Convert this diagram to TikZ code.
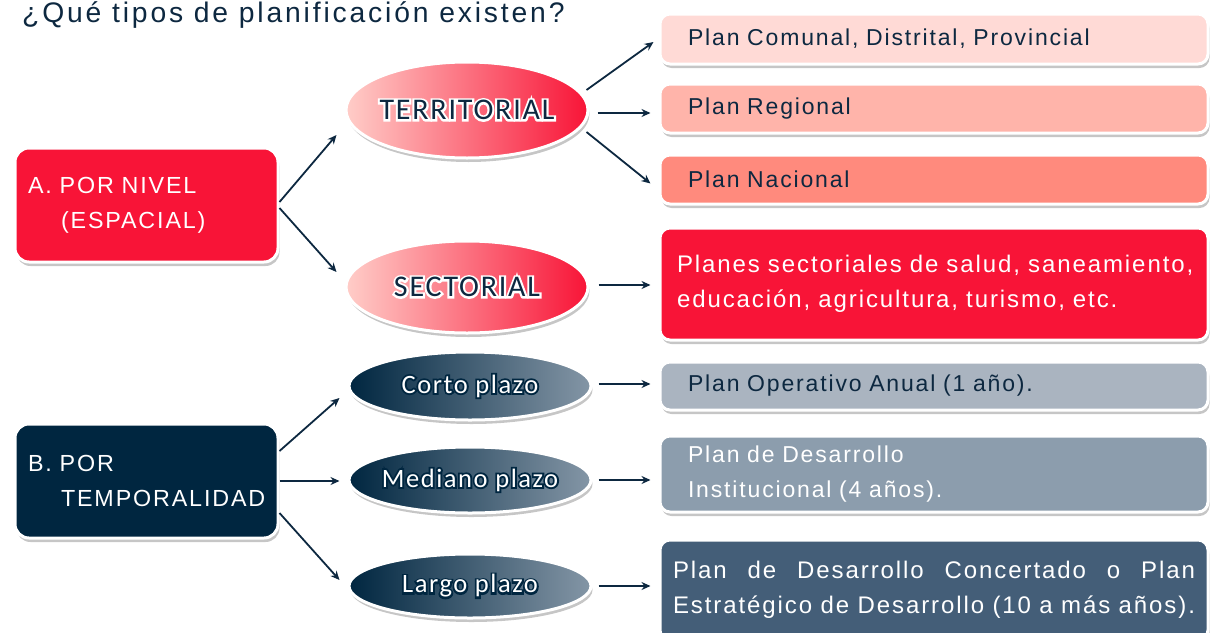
\documentclass[tikz,border=0pt]{standalone}
\usepackage{fontspec}
\setmainfont[LetterSpace=8,WordSpace=1.8]{Liberation Sans}
\newfontfamily\tightf[LetterSpace=8]{Liberation Sans}
\newfontfamily\titlef[LetterSpace=10]{Liberation Sans}
\newfontfamily\calib[LetterSpace=6]{Carlito}
\newfontfamily\calibhalo[LetterSpace=6,FakeBold=14]{Carlito}
\usetikzlibrary{shapes.geometric,shadows,arrows.meta,calc}
\definecolor{dark}{RGB}{13,40,64}
\definecolor{cred}{RGB}{248,20,55}
\definecolor{cnavy}{RGB}{0,38,64}
\definecolor{pinkA}{RGB}{255,218,214}
\definecolor{pinkB}{RGB}{255,180,170}
\definecolor{pinkC}{RGB}{255,138,125}
\definecolor{greyA}{RGB}{170,180,192}
\definecolor{greyB}{RGB}{140,157,173}
\definecolor{slate}{RGB}{68,94,120}
\definecolor{ellL}{RGB}{255,205,200}
\definecolor{ellM}{RGB}{255,170,168}
\definecolor{dkR}{RGB}{132,150,166}
\newcommand\halo[3]{\makebox[0pt][c]{\rlap{\calibhalo\color{#1}#3}{\calib\color{#2}#3}}}
\begin{document}
\begin{tikzpicture}[x=1pt,y=-1pt,
  shadowed/.style={drop shadow={shadow xshift=1.5pt,shadow yshift=-4pt,fill=black!50,opacity=0.45}},
  box/.style={rectangle,rounded corners=10pt,draw=white,line width=3pt,shadowed,
    inner ysep=0pt,align=left,font=\fontsize{23}{35}\selectfont},
  lbox/.style={box,rounded corners=14pt,text=white,minimum width=263pt,minimum height=114pt,
    text width=237pt,inner xsep=13pt,font=\fontsize{23.3}{35}\selectfont},
  rbox/.style={box,minimum width=548pt,text width=492pt,inner xsep=28pt},
  tbox/.style={box,minimum width=548pt,text width=522pt,inner xsep=13pt,text=white,
    font=\tightf\fontsize{24}{35}\selectfont},
  ell/.style={ellipse,draw=white,line width=3pt,shadowed,inner sep=0pt,minimum width=242pt},
  pinkell/.style={ell,left color=ellL,middle color=ellM,right color=cred,shading angle=90,
    font=\fontsize{30}{31}\selectfont},
  darkell/.style={ell,left color=cnavy,right color=dkR,font=\fontsize{26.5}{28}\selectfont},
  arr/.style={draw=dark,line width=1.8pt,-{Stealth[length=9pt,width=8pt]}}]
\useasboundingbox (0,0) rectangle (1215,632);

\node[anchor=base west,inner sep=0pt,text=dark,font=\titlef\fontsize{28.3}{29}\selectfont] (title) at (22,22) {¿Qué tipos de planificación existen?};

% left boxes
\node[lbox,fill=cred] (A) at (146.5,205) {\mbox{A. POR NIVEL}\\\hspace*{33pt}\mbox{(ESPACIAL)}};
\node[lbox,fill=cnavy] (B) at (146.5,481) {\mbox{B. POR}\\\hspace*{33pt}\mbox{TEMPORALIDAD}};

% ellipses
\node[pinkell,minimum height=96pt] (terr) at (467,110) {\halo{white}{dark}{TERRITORIAL}};
\node[pinkell,minimum height=92pt] (sect) at (467,287) {\halo{white}{dark}{SECTORIAL}};
\node[darkell,minimum height=68pt] (corto) at (470,386) {\halo{cnavy}{white}{Corto plazo}};
\node[darkell,minimum height=66pt] (med) at (470,480) {\halo{cnavy}{white}{Mediano plazo}};
\node[darkell,minimum height=64pt] (largo) at (470,586) {\halo{cnavy}{white}{Largo plazo}};

% right boxes
\node[rbox,fill=pinkA,text=dark,minimum height=50pt] (com) at (934,39) {Plan Comunal, Distrital, Provincial};
\node[rbox,fill=pinkB,text=dark,minimum height=49pt] (reg) at (934,108.5) {Plan Regional};
\node[rbox,fill=pinkC,text=dark,minimum height=49pt] (nac) at (934,179.5) {Plan Nacional};
\node[tbox,fill=cred,minimum height=112pt] (sec) at (934,284) {\hspace*{4pt}Planes sectoriales de salud, saneamiento,\\\hspace*{4pt}educación, agricultura, turismo, etc.};
\node[rbox,fill=greyA,text=dark,minimum height=48pt] (oper) at (934,386) {Plan Operativo Anual (1 año).};
\node[rbox,fill=greyB,text=white,minimum height=76pt] (inst) at (934,474) {Plan de Desarrollo\\Institucional (4 años).};
\node[tbox,fill=slate,minimum height=100pt,align=justify] (conc) at (934,590) {Plan de Desarrollo Concertado o Plan\linebreak Estratégico de Desarrollo (10 a más años).};

% connectors
\draw[arr] ([yshift=3pt]A.east) -- ([xshift=-8pt,yshift=-25pt]terr.west);
\draw[arr] ([yshift=-3pt]A.east) -- ([xshift=-8pt,yshift=15pt]sect.west);
\draw[arr] ([xshift=-3pt,yshift=20pt]terr.east) -- ([xshift=-5pt,yshift=-3pt]com.west);
\draw[arr] ([xshift=8pt,yshift=-3pt]terr.east) -- ([xshift=-8pt,yshift=-3pt]terr.east -| reg.west);
\draw[arr] ([xshift=-3pt,yshift=-22pt]terr.east) -- ([xshift=-8pt,yshift=-4pt]nac.west);
\draw[arr] ([xshift=9pt,yshift=2pt]sect.east) -- ([xshift=-8pt,yshift=2pt]sect.east -| sec.west);
\draw[arr] ([yshift=30pt]B.east) -- ([xshift=-8pt,yshift=-12pt]corto.west);
\draw[arr] (B.east) -- ([xshift=-8pt]B.east -| med.west);
\draw[arr] ([yshift=-32pt]B.east) -- ([xshift=-8pt,yshift=6pt]largo.west);
\draw[arr] ([xshift=6pt,yshift=2pt]corto.east) -- ([xshift=-8pt,yshift=2pt]corto.east -| oper.west);
\draw[arr] ([xshift=6pt]med.east) -- ([xshift=-8pt]med.east -| inst.west);
\draw[arr] ([xshift=6pt]largo.east) -- ([xshift=-8pt]largo.east -| conc.west);
\end{tikzpicture}
\end{document}
